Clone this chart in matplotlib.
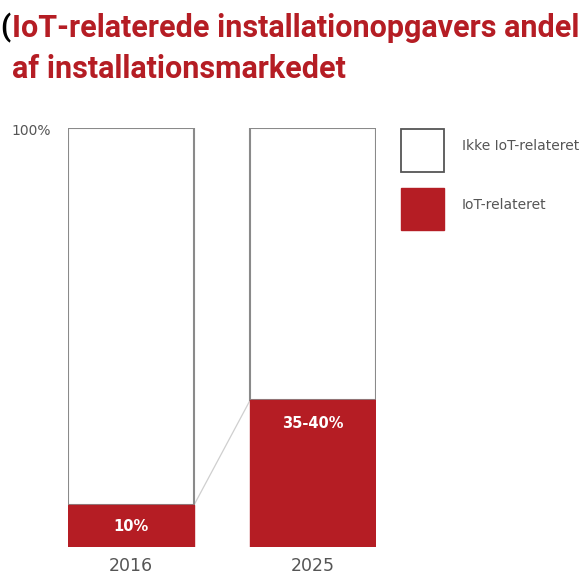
import matplotlib
matplotlib.use("Agg")
import matplotlib.pyplot as plt
from matplotlib.patches import Rectangle

years = ["2016", "2025"]
iot_share = [10, 35]
bar_labels = ["10%", "35-40%"]
legend_labels = ["Ikke IoT-relateret", "IoT-relateret"]
title_lines = ["IoT-relaterede installationopgavers andel", "af installationsmarkedet"]

RED = "#b51d24"
GREY_EDGE = "#8a8a8a"
TXT = "#555555"

W, H = 586, 577
fig = plt.figure(figsize=(W / 100, H / 100), dpi=100)
fig.patch.set_facecolor("white")

def fx(px):
    return px / W

def fy(py):
    return 1 - py / H

ax = fig.add_axes([fx(68), fy(547), fx(376) - fx(68), fy(128) - fy(547)])
width = 0.692
x = [0, 1]
ax.set_xlim(-width / 2, 1 + width / 2)
ax.set_ylim(0, 100)
ax.axis("off")

rest = [100 - v for v in iot_share]
ax.bar(x, rest, bottom=iot_share, width=width, color="white", edgecolor=GREY_EDGE,
       linewidth=1.5, zorder=2)
ax.bar(x, iot_share, width=width, color=RED, edgecolor=RED, linewidth=1.0, zorder=3)

# connecting line
ax.plot([x[0] + width / 2, x[1] - width / 2], [iot_share[0], iot_share[1]],
        color="#cfcfcf", linewidth=0.9, zorder=0)

# bar labels
ax.text(x[0], iot_share[0] / 2, bar_labels[0], ha="center", va="center",
        color="white", fontsize=10.5, fontweight="bold", family="DejaVu Sans", zorder=4)
ax.text(x[1], iot_share[1] - 5.5, bar_labels[1], ha="center", va="center",
        color="white", fontsize=10.5, fontweight="bold", family="DejaVu Sans", zorder=4)

# year labels
for xi, yr in zip(x, years):
    ax.text(xi, -2.3, yr, ha="center", va="top", color=TXT, fontsize=12.5,
            family="DejaVu Sans", clip_on=False)

# 100% label
fig.text(fx(11), fy(131), "100%", ha="left", va="center", color=TXT, fontsize=10,
         family="DejaVu Sans")

# legend
fig.patches.append(Rectangle((fx(401), fy(172)), fx(43), fy(129) - fy(172),
                             transform=fig.transFigure, facecolor="white",
                             edgecolor="#555555", linewidth=1.3))
fig.patches.append(Rectangle((fx(401), fy(230)), fx(43), fy(188) - fy(230),
                             transform=fig.transFigure, facecolor=RED,
                             edgecolor=RED, linewidth=1.0))
fig.text(fx(462), fy(146), legend_labels[0], ha="left", va="center", color=TXT,
         fontsize=10, family="DejaVu Sans")
fig.text(fx(462), fy(205), legend_labels[1], ha="left", va="center", color=TXT,
         fontsize=10, family="DejaVu Sans")

# title
fig.text(fx(0), fy(28), "(", ha="left", va="center", color="black",
         fontsize=21, fontweight="bold", family="Roboto")
fig.text(fx(12), fy(28), title_lines[0], ha="left", va="center", color=RED,
         fontsize=22, fontweight="bold", family="Roboto")
fig.text(fx(12), fy(69), title_lines[1], ha="left", va="center", color=RED,
         fontsize=22, fontweight="bold", family="Roboto")

fig.savefig("out.png", dpi=100, facecolor="white")
